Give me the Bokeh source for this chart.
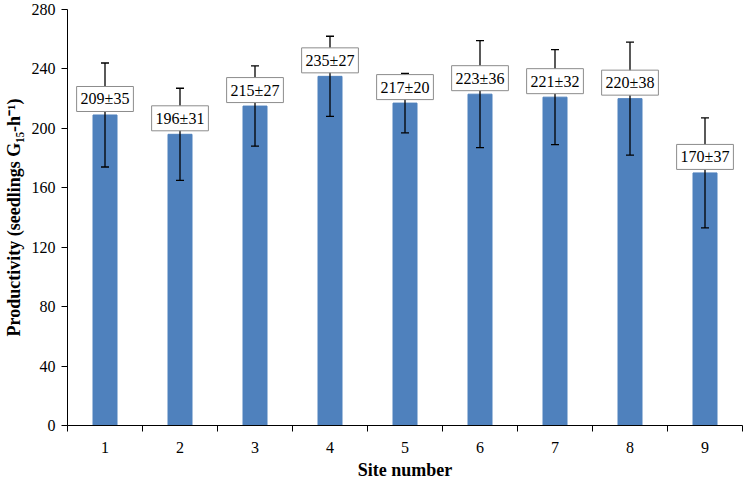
from bokeh.plotting import figure
from bokeh.models import ColumnDataSource, Range1d, FixedTicker
from bokeh.core.properties import value
from bokeh.embed import file_html
from bokeh.resources import INLINE

sites = [1, 2, 3, 4, 5, 6, 7, 8, 9]
means = [209, 196, 215, 235, 217, 223, 221, 220, 170]
sds = [35, 31, 27, 27, 20, 36, 32, 38, 37]
y_ticks = [0, 40, 80, 120, 160, 200, 240, 280]

labels = [f"{m}±{s}" for m, s in zip(means, sds)]
src = ColumnDataSource(dict(
    x=sites, top=means, upper=[m + s for m, s in zip(means, sds)],
    lower=[m - s for m, s in zip(means, sds)], label=labels,
))

FONT = "Liberation Serif"

p = figure(width=750, height=482, output_backend="svg", toolbar_location=None,
           x_range=Range1d(0.5, 9.5), y_range=Range1d(0, 280),
           min_border_left=65, min_border_right=8, min_border_top=9, min_border_bottom=55)
p.xgrid.visible = False
p.ygrid.visible = False
p.outline_line_color = None

p.vbar(x="x", top="top", width=0.32, source=src, fill_color="#4F81BD", line_color="#4F81BD")

p.segment(x0="x", y0="lower", x1="x", y1="upper", source=src, line_color="black", line_width=1.3)
p.scatter(x="x", y="upper", source=src, marker="dash", size=8, line_color="black", line_width=1.3)
p.scatter(x="x", y="lower", source=src, marker="dash", size=8, line_color="black", line_width=1.3)

p.text(x="x", y="top", text="label", source=src, y_offset=-16,
       text_align="center", text_baseline="middle",
       text_font=value(FONT), text_font_size="16px", text_color="black",
       background_fill_color="white", border_line_color="#8c8c8c", border_line_width=1,
       padding=4)

p.yaxis.ticker = FixedTicker(ticks=y_ticks)
p.yaxis.major_tick_out = 6
p.yaxis.major_tick_in = 0
p.yaxis.minor_tick_out = 0
p.yaxis.minor_tick_in = 0
p.yaxis.major_label_standoff = 6
p.yaxis.axis_label = "Productivity (seedlings G₁₅-h⁻¹)"

p.xaxis.ticker = FixedTicker(ticks=sites, minor_ticks=[i + 0.5 for i in range(0, 10)])
p.xaxis.major_tick_out = 0
p.xaxis.major_tick_in = 0
p.xaxis.minor_tick_out = 6
p.xaxis.minor_tick_in = 0
p.xaxis.major_label_standoff = 10
p.xaxis.axis_label_standoff = 4
p.xaxis.axis_label = "Site number"

for ax in (p.xaxis[0], p.yaxis[0]):
    ax.axis_line_color = "black"
    ax.major_tick_line_color = "black"
    ax.minor_tick_line_color = "black"
    ax.major_label_text_font = FONT
    ax.major_label_text_font_size = "16px"
    ax.major_label_text_color = "black"
    ax.axis_label_text_font = FONT
    ax.axis_label_text_font_size = "18px"
    ax.axis_label_text_font_style = "bold"
    ax.axis_label_text_color = "black"

open("out.html", "w").write(file_html(p, INLINE))
